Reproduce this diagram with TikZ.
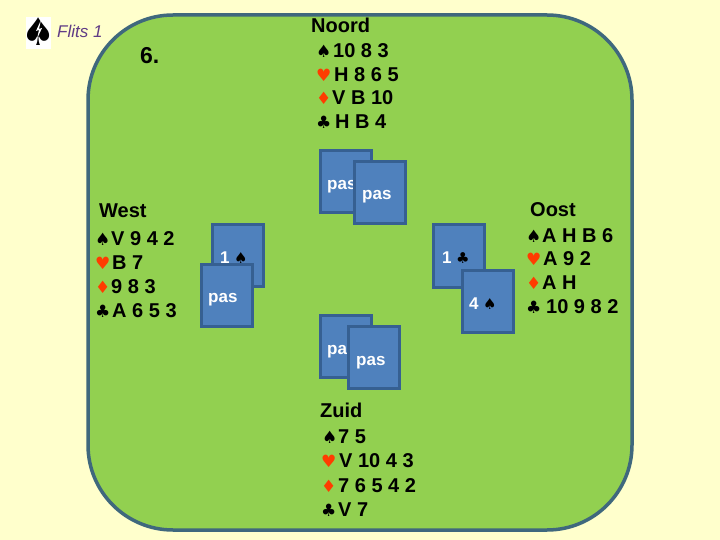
\documentclass[tikz,border=0pt]{standalone}
\usepackage{xcolor}
\usepackage{fontspec}
\setmainfont{Liberation Sans}
\newfontfamily\suitfont{DejaVu Sans}
\usetikzlibrary{positioning}
\definecolor{pagecream}{RGB}{255, 255, 204}
\definecolor{tablegreen}{RGB}{146, 208, 80}
\definecolor{tableedge}{RGB}{63, 104, 125}
\definecolor{cardblue}{RGB}{79, 129, 189}
\definecolor{cardedge}{RGB}{54, 96, 146}
\definecolor{suitred}{RGB}{255, 60, 0}
\definecolor{flitspurple}{RGB}{96, 60, 134}
\newcommand{\spd}{\makebox[16pt][l]{\suitfont\fontsize{17}{17}\selectfont ♠}}
\newcommand{\hrt}{\makebox[16pt][l]{\suitfont\fontsize{17}{17}\selectfont\textcolor{suitred}{♥}}}
\newcommand{\dmd}{\makebox[16pt][l]{\suitfont\fontsize{17}{17}\selectfont\textcolor{suitred}{♦}}}
\newcommand{\clb}{\makebox[16pt][l]{\suitfont\fontsize{17}{17}\selectfont ♣}}
\newcommand{\bidspd}{{\suitfont\fontsize{15}{15}\selectfont\textcolor{black}{♠}}}
\newcommand{\bidclb}{{\suitfont\fontsize{15}{15}\selectfont\textcolor{black}{♣}}}
\tikzset{
    handline/.style={anchor=base west, inner sep=0pt, font=\bfseries\fontsize{20}{24}\selectfont},
    card/.style={draw=cardedge, fill=cardblue, line width=3pt, minimum width=51pt, minimum height=62pt, inner sep=0pt},
    bid/.style={anchor=base west, inner sep=0pt, text=white, font=\bfseries\fontsize{17}{20}\selectfont},
    bidsuit/.style={anchor=base west, inner sep=0pt}
}
\begin{document}
\begin{tikzpicture}[x=1pt, y=-1pt]
    \useasboundingbox (0,0) rectangle (720,540);
    \fill[pagecream] (0,0) rectangle (720,540);
    \draw[fill=tablegreen, draw=tableedge, line width=3.5pt, rounded corners=85pt] (88,15) rectangle (632,530);

    \fill[white] (26,17) rectangle (51,49);
    \node[inner sep=0pt, font=\suitfont\fontsize{38}{38}\selectfont] (flitsicon) at (38.5,32) {♠};
    \fill[white] (41,20) -- (36,31) -- (39,30) -- (37,39) -- (42,28) -- (39,29) -- cycle;
    \node[anchor=base west, inner sep=0pt, text=flitspurple, font=\itshape\fontsize{17}{20}\selectfont] (flits) at (57,38) {Flits 1};
    \node[anchor=base west, inner sep=0pt, font=\bfseries\fontsize{23}{26}\selectfont] (board) at (140,64) {6.};

    \node[handline] (noord) at (311,33) {Noord};
    \node[handline] (noord1) at (316,58) {\spd\hspace{1pt}10 8 3};
    \node[handline] (noord2) at (316,82) {\hrt\hspace{2pt}H 8 6 5};
    \node[handline] (noord3) at (316,105) {\dmd V B 10};
    \node[handline] (noord4) at (316,129) {\clb\hspace{3pt}H B 4};

    \node[handline] (west) at (99,218) {West};
    \node[handline] (west1) at (95,245) {\spd V 9 4 2};
    \node[handline] (west2) at (95,269) {\hrt\hspace{1pt}B 7};
    \node[handline] (west3) at (95,293) {\dmd 9 8 3};
    \node[handline] (west4) at (95,317) {\clb\hspace{1pt}A 6 5 3};

    \node[handline] (oost) at (530,217) {Oost};
    \node[handline] (oost1) at (526,242) {\spd A H B 6};
    \node[handline] (oost2) at (526,265) {\hrt\hspace{1pt}A 9 2};
    \node[handline] (oost3) at (526,289) {\dmd A H};
    \node[handline] (oost4) at (526,313) {\clb\hspace{4pt}10 9 8 2};

    \node[handline] (zuid) at (320,417) {Zuid};
    \node[handline] (zuid1) at (322,443) {\spd 7 5};
    \node[handline] (zuid2) at (321,467) {\hrt\hspace{2pt}V 10 4 3};
    \node[handline] (zuid3) at (321,492) {\dmd\hspace{1pt}7 6 5 4 2};
    \node[handline] (zuid4) at (321,516) {\clb\hspace{1pt}V 7};

    \node[card] (noordcard) at (346,181.5) {};
    \node[bid] (noordbid) at (327,190) {pas};
    \node[card] (noordcardb) at (380,193) {};
    \node[bid] (noordbidb) at (362,200) {pas};

    \node[card] (westcard) at (238,255.5) {};
    \node[bid] (westbid) at (220,263) {1};
    \node[bidsuit] (westsuit) at (234,263) {\bidspd};
    \node[card] (westcardb) at (226.5,295) {};
    \node[bid] (westbidb) at (208,302) {pas};

    \node[card] (oostcard) at (459,256) {};
    \node[bid] (oostbid) at (442,263) {1};
    \node[bidsuit] (oostsuit) at (456,263) {\bidclb};
    \node[card] (oostcardb) at (488,301) {};
    \node[bid] (oostbidb) at (469,309) {4};
    \node[bidsuit] (oostsuitb) at (483,309) {\bidspd};

    \node[card] (zuidcard) at (346,346) {};
    \node[bid] (zuidbid) at (327,354) {pas};
    \node[card] (zuidcardb) at (374,357.5) {};
    \node[bid] (zuidbidb) at (356,365) {pas};
\end{tikzpicture}
\end{document}
